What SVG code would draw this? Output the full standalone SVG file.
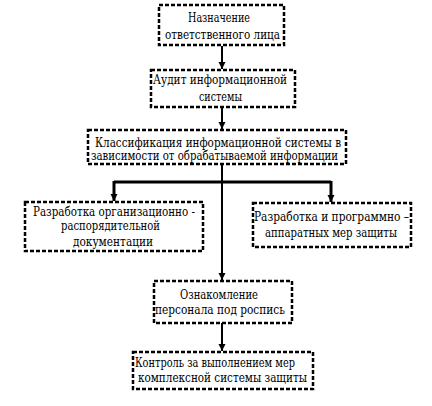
<svg xmlns="http://www.w3.org/2000/svg" width="432" height="406" viewBox="0 0 432 406">
<defs>
<style>
.box{fill:#fff;stroke:#000;stroke-width:2.5;stroke-dasharray:4 2}
.ln{fill:none;stroke:#000;stroke-width:2}
.lt{fill:none;stroke:#000;stroke-width:3}
</style>
<marker id="ah" viewBox="0 0 10 10" refX="10" refY="5" markerWidth="7" markerHeight="8" markerUnits="userSpaceOnUse" orient="auto">
<path d="M0,0 L10,5 L0,10 z" fill="#000"/>
</marker>
</defs>
<rect width="432" height="406" fill="#fff"/>
<g id="connectors">
<line class="ln" x1="222" y1="46" x2="222" y2="69" marker-end="url(#ah)"/>
<line class="ln" x1="222" y1="108" x2="222" y2="129" marker-end="url(#ah)"/>
<line class="ln" x1="222" y1="165" x2="222" y2="280" marker-end="url(#ah)"/>
<polyline class="lt" points="331,182 114,182"/>
<line class="lt" x1="114" y1="181" x2="114" y2="201" marker-end="url(#ah)"/>
<line class="lt" x1="331" y1="181" x2="331" y2="202" marker-end="url(#ah)"/>
<line class="ln" x1="222" y1="323" x2="222" y2="351" marker-end="url(#ah)"/>
</g>
<g font-family="DejaVu Serif, serif" font-size="12" fill="#000">
<g id="n1">
<rect class="box" x="159" y="5" width="125" height="40"/>
<text x="188" y="22" textLength="62" lengthAdjust="spacingAndGlyphs">Назначение</text>
<text x="165" y="39" textLength="115" lengthAdjust="spacingAndGlyphs">ответственного лица</text>
</g>
<g id="n2">
<rect class="box" x="151" y="70" width="144" height="37"/>
<text x="153" y="84" textLength="134" lengthAdjust="spacingAndGlyphs">Аудит информационной</text>
<text x="199" y="101" textLength="43" lengthAdjust="spacingAndGlyphs">системы</text>
</g>
<g id="n3">
<rect class="box" x="88" y="130" width="258" height="34"/>
<text x="95" y="147" textLength="246" lengthAdjust="spacingAndGlyphs">Классификация информационной системы в</text>
<text x="91" y="160" textLength="247" lengthAdjust="spacingAndGlyphs">зависимости от обрабатываемой информации</text>
</g>
<g id="n4">
<rect class="box" x="25" y="202" width="178" height="49"/>
<text x="33" y="216" textLength="162" lengthAdjust="spacingAndGlyphs">Разработка организационно -</text>
<text x="61" y="230" textLength="99" lengthAdjust="spacingAndGlyphs">распорядительной</text>
<text x="73" y="246" textLength="80" lengthAdjust="spacingAndGlyphs">документации</text>
</g>
<g id="n5">
<rect class="box" x="253" y="203" width="158" height="44"/>
<text x="254" y="221" textLength="155" lengthAdjust="spacingAndGlyphs">Разработка и программно –</text>
<text x="265" y="237" textLength="132" lengthAdjust="spacingAndGlyphs">аппаратных мер защиты</text>
</g>
<g id="n6">
<rect class="box" x="154" y="281" width="138" height="42"/>
<text x="180" y="299" textLength="78" lengthAdjust="spacingAndGlyphs">Ознакомление</text>
<text x="155" y="314" textLength="130" lengthAdjust="spacingAndGlyphs">персонала под роспись</text>
</g>
<g id="n7">
<rect class="box" x="133" y="352" width="180" height="37"/>
<text x="135" y="367" textLength="160" lengthAdjust="spacingAndGlyphs">Контроль за выполнением мер</text>
<text x="138" y="382" textLength="169" lengthAdjust="spacingAndGlyphs">комплексной системы защиты</text>
</g>
</g>
</svg>
